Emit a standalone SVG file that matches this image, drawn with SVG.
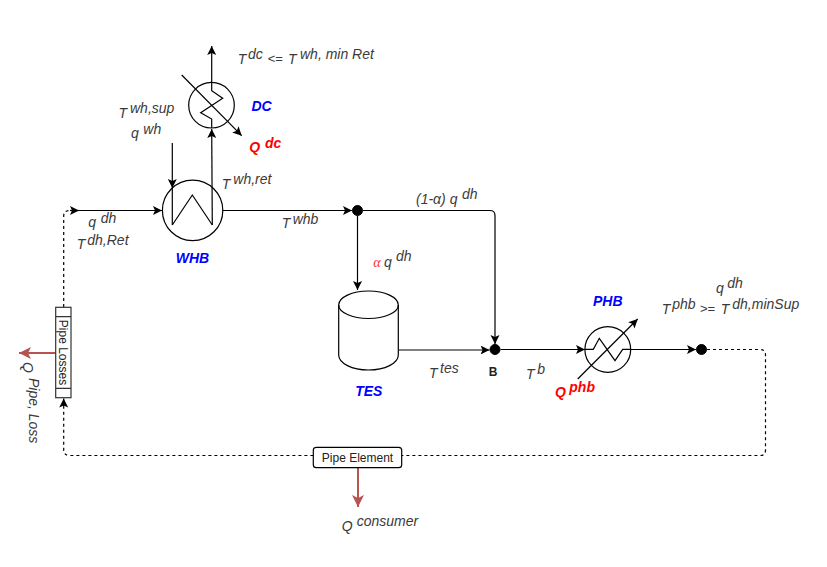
<svg xmlns="http://www.w3.org/2000/svg" width="827" height="567" viewBox="0 0 827 567">
<style>
text{font-family:"Liberation Sans",Arial,sans-serif;}
.l{font-size:14px;font-style:italic;fill:#3a3a3a}
.op{font-size:13px;font-style:normal}
.t{font-size:12px;fill:#222}
.b{font-size:14px;font-weight:bold;font-style:italic;fill:#0000ff;text-anchor:middle}
.r{font-size:14px;font-weight:bold;font-style:italic;fill:#ff0000}
.e{fill:none;stroke:#000;stroke-width:1.2}
.d{fill:none;stroke:#000;stroke-width:1.2;stroke-dasharray:3 3}
.a{marker-end:url(#ar)}
.h{fill:#fff;stroke:#000;stroke-width:1.2}
.dot{fill:#000;stroke:#000}
.p{fill:none;stroke:#b85450;stroke-width:2;marker-end:url(#rr)}
</style>
<defs>
<marker id="ar" markerUnits="userSpaceOnUse" markerWidth="10" markerHeight="10" refX="9" refY="4.500" orient="auto"><path d="M0 0L9 4.500L0 9L2 4.500Z" fill="#000"/></marker>
<marker id="rr" markerUnits="userSpaceOnUse" markerWidth="14" markerHeight="14" refX="12" refY="6" orient="auto"><path d="M0 0L12 6L0 12L3 6Z" fill="#b85450"/></marker>
</defs>
<g id="connectors">
<path class="e a" d="M78 210.500H162"/>
<path class="e a" d="M222.700 210.500H352"/>
<path class="e a" d="M172.300 143V188"/>
<path class="e a" d="M212.300 225L211.700 129"/>
<path class="e a" d="M211.700 82V46"/>
<path class="e a" d="M181.700 75L241.700 135.700"/>
<path class="e a" d="M357.500 216V290"/>
<path class="e a" d="M363 210.500H490Q495 210.500 495 215.500V344"/>
<path class="e a" d="M398.500 350H489.500"/>
<path class="e a" d="M500.500 349.500H585"/>
<path class="e a" d="M630.700 349.500H696"/>
<path class="d" d="M707 349.500H760Q765.500 349.500 765.500 355V450Q765.500 455.500 760 455.500H70Q63.700 455.500 63.700 450V404"/>
<path class="e a" d="M63.700 406V398.500"/>
<path class="d" d="M63.700 307V216Q63.700 210.500 70 210.500H72"/>
<path class="e a" d="M70 210.500H79"/>
<path class="p" d="M55.700 353H19"/>
<path class="p" d="M358 467.700V507"/>
</g>
<g id="WHB">
<circle class="e" cx="192.600" cy="210.400" r="30.200"/>
<path class="e" d="M172.300 225L192.300 195L212.300 225"/>
<path class="e" d="M172.300 188V225"/>
<text class="b" x="192.500" y="262.700">WHB</text>
</g>
<g id="DC">
<circle class="e" cx="211.500" cy="105.200" r="22.800"/>
<path class="e" d="M211.700 128V119L200.700 112.700L222.700 98.300L211.700 90.700V82.300"/>
<text class="b" x="261.500" y="111">DC</text>
</g>
<g id="TES">
<path class="h" d="M338.700 305A29.800 14 0 0 1 398.300 305V355A29.800 15 0 0 1 338.700 355Z"/>
<path class="e" d="M338.700 305A29.800 13.500 0 0 0 398.300 305"/>
<text class="b" x="368.800" y="396">TES</text>
</g>
<g id="B">
<circle class="dot" cx="495" cy="349.500" r="5"/>
<text x="493.200" y="375.500" font-size="12" font-weight="bold" fill="#222" text-anchor="middle">B</text>
</g>
<g id="J1"><circle class="dot" cx="357.500" cy="210.500" r="5"/></g>
<g id="J2"><circle class="dot" cx="701.500" cy="349.500" r="5"/></g>
<g id="PHB">
<circle class="e" cx="607.800" cy="349.500" r="22.900"/>
<path class="e" d="M585 349.300H593.300L599.300 338.300L615 360.700L622.700 349.300H630.700"/>
<path class="e a" d="M577.700 379L637.700 319"/>
<text class="b" x="607.800" y="305.700">PHB</text>
</g>
<g id="PipeLosses">
<rect x="55.700" y="307.300" width="15.300" height="90.400" fill="#fff" stroke="#333" stroke-width="1.200"/>
<path d="M55.700 316.700H71M55.700 388.300H71" stroke="#333" stroke-width="1.200"/>
<text class="t" transform="translate(59,352.500) rotate(90)" text-anchor="middle">Pipe Losses</text>
</g>
<g id="PipeElement">
<rect x="313.300" y="447.300" width="88.400" height="20.400" rx="3" fill="#fff" stroke="#000" stroke-width="1.200"/>
<text class="t" x="357.500" y="461.700" text-anchor="middle">Pipe Element</text>
</g>
<g id="labels">
<text class="l"><tspan x="237.700" y="63.500">T</tspan><tspan x="248" y="59">dc</tspan><tspan class="op" x="267.700" y="62.500">&lt;=</tspan><tspan x="288" y="63.500">T</tspan><tspan x="300" y="59">wh, min Ret</tspan></text>
<text class="l"><tspan x="118.500" y="118.300">T</tspan><tspan x="130" y="113.300">wh,sup</tspan></text>
<text class="l"><tspan x="131" y="138.300">q</tspan><tspan x="143.300" y="134">wh</tspan></text>
<text class="l"><tspan x="221.700" y="189">T</tspan><tspan x="233.300" y="184">wh,ret</tspan></text>
<text class="l"><tspan x="88.300" y="226.700">q</tspan><tspan x="100.700" y="223.300">dh</tspan></text>
<text class="l"><tspan x="76.700" y="249.300">T</tspan><tspan x="87.300" y="245">dh,Ret</tspan></text>
<text class="l"><tspan x="281.700" y="228.300">T</tspan><tspan x="292.700" y="224">whb</tspan></text>
<text class="l"><tspan x="416" y="204">(1-α) q</tspan><tspan x="462" y="199">dh</tspan></text>
<text class="l"><tspan x="373.300" y="266.700" fill="#ff3333" font-family="Liberation Serif">α</tspan><tspan x="384" y="266.700">q</tspan><tspan x="396" y="261">dh</tspan></text>
<text class="l"><tspan x="429" y="377.700">T</tspan><tspan x="440" y="373.300">tes</tspan></text>
<text class="l"><tspan x="526" y="379">T</tspan><tspan x="537.300" y="374">b</tspan></text>
<text class="l"><tspan x="716" y="293.300">q</tspan><tspan x="727.300" y="288.300">dh</tspan></text>
<text class="l"><tspan x="661.700" y="314">T</tspan><tspan x="672.300" y="309">phb</tspan><tspan class="op" x="700" y="312.700">&gt;=</tspan><tspan x="720.700" y="314">T</tspan><tspan x="732.300" y="309">dh,minSup</tspan></text>
<text class="l"><tspan x="341.700" y="530.700">Q</tspan><tspan x="356.700" y="525.700">consumer</tspan></text>
<text class="l" transform="translate(23,362) rotate(90)"><tspan x="0" y="0">Q</tspan><tspan x="16" y="-6">Pipe, Loss</tspan></text>
<text class="r"><tspan x="249.300" y="152.300">Q</tspan><tspan x="265" y="147.700">dc</tspan></text>
<text class="r"><tspan x="555" y="396.700">Q</tspan><tspan x="569.300" y="391.700">phb</tspan></text>
</g>
</svg>
